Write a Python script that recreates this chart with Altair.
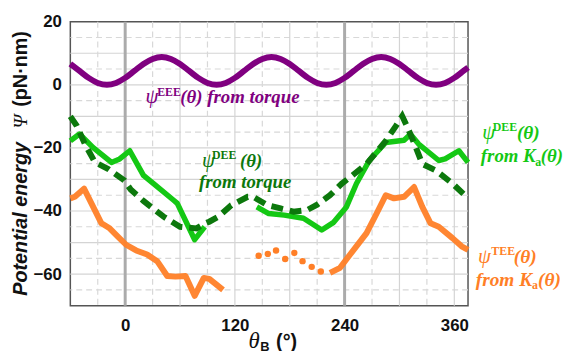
import altair as alt
import pandas as pd

# ---------------- data ----------------
theta_eee = [-60, -50, -40, -30, -20, -10, 0, 10, 20, 30, 40, 50,
             60, 70, 80, 90, 100, 110, 120, 130, 140, 150, 160, 170,
             180, 190, 200, 210, 220, 230, 240, 250, 260, 270, 280, 290,
             300, 310, 320, 330, 340, 350, 360, 370, 375]
psi_eee = [6.6, 4.4, 2.2, 0.6, 0.0, 0.6, 2.2, 4.4, 6.6, 8.2, 8.8, 8.2,
           6.6, 4.4, 2.2, 0.6, 0.0, 0.6, 2.2, 4.4, 6.6, 8.2, 8.8, 8.2,
           6.6, 4.4, 2.2, 0.6, 0.0, 0.6, 2.2, 4.4, 6.6, 8.2, 8.8, 8.2,
           6.6, 4.4, 2.2, 0.6, 0.0, 0.6, 2.2, 4.4, 5.5]

theta_dee_torque = [-60, -53, -44, -33, -19, -1, 6, 20, 42, 60, 78, 87, 92, 102,
                    116, 134, 140, 156, 170, 184, 199, 210, 224, 237, 246, 264,
                    285, 296, 303, 309, 318, 325, 340, 358, 375]
psi_dee_torque = [-10, -13, -18.8, -24.6, -26.6, -30.3, -33.2, -36.8, -41.8, -45,
                  -45.5, -44, -43.4, -41.8, -38.2, -35.5, -35.5, -38.2, -39.2,
                  -40.2, -39.7, -38, -35, -31.3, -29.3, -25.1, -17.8, -13.1,
                  -9.9, -13.6, -19.9, -25.1, -27.2, -31.3, -36]

theta_dee_ka_1 = [-60, -50, -35, -15, -6, 5, 20, 31, 53, 57, 76, 87]
psi_dee_ka_1 = [-17.8, -15.6, -19.9, -24.6, -23.5, -20.9, -28.7, -31.3, -36.6,
                -37.6, -49.1, -45]
theta_dee_ka_2 = [144, 157, 174, 195, 215, 228, 242, 253, 267, 285, 305, 312,
                  321, 343, 350, 365, 375]
psi_dee_ka_2 = [-38.7, -40.8, -41.3, -42.3, -46, -43.6, -38.7, -31.3, -24,
                -18.3, -17.6, -15.7, -18.8, -24, -23.5, -20.9, -24.6]

theta_tee_1 = [-60, -55, -45, -35, -26, -17, -8, 1, 12, 24, 35, 46, 55, 66,
               76, 86, 92, 107]
psi_tee_1 = [-36, -35.5, -32.9, -38.7, -43.9, -45.5, -48.1, -50.7, -52.5,
             -53.8, -55.9, -60.6, -60.8, -60.6, -66.9, -61.2, -61.5, -65]
theta_tee_dots = [146, 156, 165, 175, 185, 194, 204, 214]
psi_tee_dots = [-54.2, -53.6, -52.5, -55.2, -53.3, -55.9, -57.7, -59.2]
theta_tee_2 = [224, 235, 246, 264, 275, 285, 294, 305, 316, 325, 334, 343,
               358, 368, 375]
psi_tee_2 = [-59.6, -58, -53.8, -47, -40.8, -35, -36, -35.5, -32.4, -38.7,
             -43.9, -45, -48.6, -51.2, -52.3]

x_ticks = [0, 120, 240, 360]
y_ticks = [20, 0, -20, -40, -60]
x_grid_solid = [60, 120, 180, 300, 360]
x_grid_dashed = [-30, 30, 90, 150, 210, 270, 330]
x_grid_bold = [0, 240]
y_grid_solid = [10, 0, -10, -20, -30, -40, -50, -60]
y_grid_dashed = [15, 5, -5, -15, -25, -35, -45, -55, -65]

# ---------------- styling ----------------
PURPLE = "#800080"
LIME = "#14c814"
DKGREEN = "#0c780c"
ORANGE = "#ff7f27"
W, H = 402, 287

xscale = alt.Scale(domain=[-60, 375], nice=False, zero=False)
yscale = alt.Scale(domain=[-70, 20], nice=False, zero=False)
xaxis = alt.Axis(values=x_ticks, title=None, grid=False, ticks=False, domain=False,
                 labelFont="Liberation Sans", labelFontSize=17, labelFontWeight="bold",
                 labelColor="#111", labelPadding=12, labelFlush=False)
yaxis = alt.Axis(values=y_ticks, title=None, grid=False, ticks=False, domain=False,
                 labelFont="Liberation Sans", labelFontSize=17, labelFontWeight="bold",
                 labelColor="#111", labelPadding=9)


def X(field="t"):
    return alt.X(f"{field}:Q", scale=xscale, axis=xaxis)


def Y(field="v"):
    return alt.Y(f"{field}:Q", scale=yscale, axis=yaxis)


def df(t, v):
    return pd.DataFrame({"t": t, "v": v})


layers = []
# grid
layers.append(alt.Chart(pd.DataFrame({"v": y_grid_solid})).mark_rule(
    color="#d4d4d4", strokeWidth=1.2).encode(y=Y()))
layers.append(alt.Chart(pd.DataFrame({"v": y_grid_dashed})).mark_rule(
    color="#d8d8d8", strokeWidth=1.2, strokeDash=[6, 4]).encode(y=Y()))
layers.append(alt.Chart(pd.DataFrame({"t": x_grid_solid})).mark_rule(
    color="#d4d4d4", strokeWidth=1.2).encode(x=X()))
layers.append(alt.Chart(pd.DataFrame({"t": x_grid_dashed})).mark_rule(
    color="#d8d8d8", strokeWidth=1.2, strokeDash=[6, 4]).encode(x=X()))
layers.append(alt.Chart(pd.DataFrame({"t": x_grid_bold})).mark_rule(
    color="#ababab", strokeWidth=3).encode(x=X()))

# curves
layers.append(alt.Chart(df(theta_eee, psi_eee)).mark_line(
    color=PURPLE, strokeWidth=6, interpolate="monotone").encode(x=X(), y=Y()))
layers.append(alt.Chart(df(theta_dee_ka_1, psi_dee_ka_1)).mark_line(
    color=LIME, strokeWidth=5.5, strokeJoin="round").encode(x=X(), y=Y()))
layers.append(alt.Chart(df(theta_dee_ka_2, psi_dee_ka_2)).mark_line(
    color=LIME, strokeWidth=5.5, strokeJoin="round").encode(x=X(), y=Y()))
layers.append(alt.Chart(df(theta_dee_torque, psi_dee_torque)).mark_line(
    color=DKGREEN, strokeWidth=6, strokeDash=[12, 7]).encode(x=X(), y=Y()))
layers.append(alt.Chart(df(theta_tee_1, psi_tee_1)).mark_line(
    color=ORANGE, strokeWidth=6, strokeJoin="round", opacity=0.95).encode(x=X(), y=Y()))
layers.append(alt.Chart(df(theta_tee_2, psi_tee_2)).mark_line(
    color=ORANGE, strokeWidth=6, strokeJoin="round", opacity=0.95).encode(x=X(), y=Y()))
layers.append(alt.Chart(df(theta_tee_dots, psi_tee_dots)).mark_circle(
    color=ORANGE, size=42, opacity=1).encode(x=X(), y=Y()))


# annotations in data coordinates
def note(text, t, v, color, size, italic=True, bold=True, font="Liberation Serif"):
    return alt.Chart(pd.DataFrame({"t": [t], "v": [v], "s": [text]})).mark_text(
        align="left", baseline="alphabetic", color=color, fontSize=size,
        font=font, fontStyle="italic" if italic else "normal",
        fontWeight="bold" if bold else "normal").encode(x=X(), y=Y(), text="s:N")


PSI = "\u03c8"
notes = [
    # purple
    (PSI, 22.3, -5.7, PURPLE, 21, True, False),
    ("EEE", 35.0, -3.4, PURPLE, 12, False, True),
    ("(\u03b8) from torque", 60.2, -5.7, PURPLE, 19, True, True),
    # dark green
    (PSI, 84.0, -26.1, DKGREEN, 21, True, False),
    ("DEE", 95.0, -23.6, DKGREEN, 12, False, True),
    ("(\u03b8)", 125.6, -26.1, DKGREEN, 19, True, True),
    ("from torque", 80.7, -32.7, DKGREEN, 19, True, True),
    # lime
    (PSI, 390.5, -17.3, LIME, 21, True, False),
    ("DEE", 402.0, -14.8, LIME, 12, False, True),
    ("(\u03b8)", 428.5, -17.3, LIME, 19.5, True, True),
    ("from K", 389.0, -24.5, LIME, 19, True, True),
    ("a", 448.5, -25.6, LIME, 12, False, True),
    ("(\u03b8)", 454.5, -24.5, LIME, 19, True, True),
    # orange
    (PSI, 386.0, -56.5, ORANGE, 21, True, False),
    ("TEE", 400.5, -54.0, ORANGE, 12, False, True),
    ("(\u03b8)", 425.0, -56.5, ORANGE, 19.5, True, True),
    ("from K", 383.5, -63.7, ORANGE, 19.5, True, True),
    ("a", 445.0, -64.8, ORANGE, 12, False, True),
    ("(\u03b8)", 451.5, -63.7, ORANGE, 19.5, True, True),
]
for n in notes:
    layers.append(note(*n))


# axis titles (outside the plot, pixel positions relative to plot area)
def ptext(text, x, y, size, italic, bold, font, angle=0, color="#111"):
    kw = dict(align="left", baseline="alphabetic", fontSize=size, font=font,
              fontStyle="italic" if italic else "normal",
              fontWeight="bold" if bold else "normal", color=color)
    if angle:
        kw["angle"] = angle
    return alt.Chart(pd.DataFrame({"s": [text]})).mark_text(**kw).encode(
        x=alt.value(x), y=alt.value(y), text="s:N")


layers.append(ptext("Potential energy", -44, 277, 20, True, True, "Liberation Sans", 270))
layers.append(ptext("\u03a8", -44, 108, 20, True, False, "Liberation Serif", 270))
layers.append(ptext("(pN\u00b7nm)", -44, 86, 20, False, True, "Liberation Sans", 270))
layers.append(ptext("\u03b8", 180, 330, 23, True, False, "Liberation Serif"))
layers.append(ptext("B", 192, 333, 13, False, True, "Liberation Sans"))
layers.append(ptext("(\u00b0)", 208, 330, 20, False, True, "Liberation Sans"))

chart = alt.layer(*layers).properties(
    width=W, height=H,
    autosize=alt.AutoSizeParams(type="none"),
    padding={"left": 63, "top": 12, "right": 96, "bottom": 44},
).configure_view(stroke="#555555", strokeWidth=1.5)

chart.save("out.html", embed_options={"renderer": "svg", "actions": False})
